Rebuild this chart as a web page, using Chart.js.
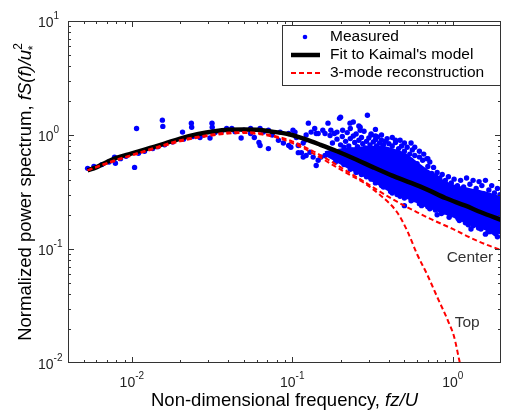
<!DOCTYPE html>
<html>
<head>
<meta charset="utf-8">
<script src="https://cdn.jsdelivr.net/npm/chart.js@4.4.1/dist/chart.umd.min.js"></script>
<style>
  html, body { margin: 0; padding: 0; background: #fff; }
  canvas { display: block; }
</style>
</head>
<body>
<canvas id="spectrum" width="505" height="411"></canvas>
<script>
// ================= DATA =================
// Kaimal fit (black)
const fitX = [0.0053, 0.006, 0.007, 0.008, 0.01, 0.013, 0.016, 0.02, 0.026, 0.033, 0.04, 0.05, 0.06, 0.075, 0.094,
  0.12, 0.15, 0.19, 0.25, 0.32, 0.42, 0.55, 0.7, 0.9, 1.2, 1.5, 2.0];
const fitY = [0.49, 0.52, 0.58, 0.63, 0.69, 0.77, 0.84, 0.93, 1.02, 1.08, 1.11, 1.12, 1.11, 1.07, 1.02,
  0.92, 0.82, 0.72, 0.61, 0.52, 0.44, 0.38, 0.33, 0.28, 0.24, 0.21, 0.18];

// 3-mode reconstruction, center height
const centerX = [0.0053, 0.007, 0.01, 0.015, 0.02, 0.03, 0.04, 0.05, 0.065, 0.08, 0.1, 0.13, 0.17, 0.22, 0.28,
  0.35, 0.45, 0.6, 0.75, 1.0, 1.3, 1.6, 2.0];
const centerY = [0.49, 0.57, 0.67, 0.8, 0.9, 1.0, 1.05, 1.06, 1.03, 0.97, 0.88, 0.74, 0.6, 0.48, 0.39,
  0.32, 0.26, 0.21, 0.18, 0.15, 0.125, 0.11, 0.098];

// 3-mode reconstruction, top height
const topX = [0.0053, 0.007, 0.01, 0.015, 0.02, 0.03, 0.04, 0.05, 0.065, 0.08, 0.1, 0.13, 0.17, 0.22, 0.28,
  0.35, 0.45, 0.52, 0.6, 0.7, 0.8, 0.94, 1.02, 1.1, 1.16];
const topY = [0.49, 0.56, 0.66, 0.78, 0.88, 0.98, 1.03, 1.04, 1.01, 0.95, 0.85, 0.71, 0.57, 0.46, 0.38,
  0.3, 0.21, 0.145, 0.09, 0.058, 0.038, 0.023, 0.017, 0.0105, 0.0075];

// dense core of the measured cloud (upper / lower edge)
const bandX = [0.16, 0.2, 0.25, 0.3, 0.35, 0.4, 0.5, 0.6, 0.7, 0.8, 1.0, 1.3, 1.6, 2.0];
const bandUpper = [0.7, 0.74, 0.76, 0.78, 0.78, 0.76, 0.68, 0.56, 0.48, 0.42, 0.36, 0.33, 0.31, 0.28];
const bandLower = [0.68, 0.57, 0.48, 0.42, 0.37, 0.33, 0.29, 0.26, 0.235, 0.22, 0.195, 0.165, 0.15, 0.138];

// measured points [fz/U, fS/u*^2]
const measured = [
  [0.0053,0.51],[0.0058,0.53],[0.0065,0.55],[0.0072,0.58],[0.0078,0.64],[0.0079,0.565],[0.0085,0.62],[0.0092,0.65],
  [0.0104,0.52],[0.0107,1.14],[0.011,0.69],[0.012,0.72],[0.0135,0.76],[0.0145,0.79],[0.0155,1.35],[0.0156,1.19],
  [0.016,0.82],[0.018,0.87],[0.0207,1.06],[0.021,0.92],[0.0235,1.27],[0.0236,1.17],[0.024,0.97],[0.0266,0.95],
  [0.028,1.0],[0.0307,0.94],[0.0316,1.27],[0.0317,1.17],[0.033,1.05],[0.036,1.06],[0.039,1.14],[0.042,1.14],
  [0.044,1.07],[0.048,0.94],[0.05,1.1],[0.055,1.14],[0.055,1.03],[0.058,0.95],[0.062,0.86],[0.063,1.14],
  [0.063,0.81],[0.066,1.06],[0.071,0.76],[0.071,1.1],[0.075,1.0],[0.082,0.9],[0.084,1.06],[0.088,0.85],
  [0.095,0.81],[0.095,1.03],[0.098,0.78],[0.101,1.1],[0.104,1.06],[0.106,0.95],[0.109,0.81],[0.109,0.7],
  [0.114,0.7],[0.117,0.85],[0.117,0.64],[0.12,0.9],[0.122,1.0],[0.122,0.66],[0.126,1.27],[0.129,0.705],
  [0.131,1.06],[0.135,0.64],[0.138,1.14],[0.141,0.54],[0.141,1.03],[0.145,1.03],[0.145,0.6],[0.151,0.64],
  [0.155,1.1],[0.16,0.66],[0.16,1.03],[0.167,1.27],[0.172,0.99],[0.174,1.1],[0.178,0.85],[0.183,0.705],
  [0.183,1.03],[0.186,0.58],[0.19,1.06],[0.197,1.4],[0.2,1.43],[0.206,1.1],[0.229,1.27],[0.23,1.14],
  [0.265,1.17],[0.265,1.1],[0.294,1.49],
  // above the fit
  [0.19,0.92],[0.2,0.82],[0.205,0.97],[0.21,0.78],[0.215,0.88],[0.22,1.05],[0.225,0.8],[0.23,0.93],
  [0.235,0.74],[0.24,0.98],[0.245,0.86],[0.25,1.02],[0.255,0.79],[0.26,0.9],[0.265,0.73],[0.27,0.95],
  [0.275,0.84],[0.28,1.08],[0.285,0.77],[0.29,0.88],[0.295,0.7],[0.3,0.94],[0.305,0.82],[0.31,1.0],
  [0.315,0.75],[0.32,0.87],[0.325,0.68],[0.33,0.91],[0.335,0.8],[0.34,0.96],[0.345,0.72],[0.35,0.85],
  [0.355,0.66],[0.36,0.9],[0.365,0.78],[0.37,0.82],[0.375,0.64],[0.38,0.88],[0.39,0.73],[0.4,0.84],
  [0.41,0.62],[0.42,0.8],[0.43,0.7],[0.44,0.86],[0.45,0.6],[0.46,0.76],[0.47,0.66],[0.48,0.8],
  [0.49,0.58],[0.5,0.72],[0.51,0.63],[0.52,0.78],[0.53,0.55],[0.54,0.68],[0.55,0.6],[0.56,0.74],
  [0.57,0.52],[0.58,0.66],[0.6,0.56],[0.62,0.64],[0.63,0.5],[0.65,0.6],[0.67,0.48],[0.69,0.62],
  [0.7,0.53],[0.72,0.58],[0.74,0.46],[0.76,0.52],[0.78,0.44],[0.8,0.47],[0.83,0.42],[0.86,0.45],
  [0.9,0.4],[0.94,0.43],[0.98,0.38],[1.02,0.41],[1.07,0.36],[1.12,0.4],[1.17,0.35],[1.22,0.42],
  [1.28,0.37],[1.34,0.4],[1.4,0.34],[1.46,0.39],[1.52,0.36],[1.6,0.4],[1.68,0.33],[1.75,0.36],
  [1.82,0.31],[1.9,0.34],[1.97,0.3],
  [0.36,1.0],[0.42,0.95],[0.33,1.12],[0.26,1.2],[0.24,1.3],[0.47,0.9],[0.55,0.85],
  [0.31,1.02],[0.33,0.98],[0.39,0.93],[0.44,0.9],[0.5,0.85],[0.58,0.78],[0.62,0.72],[0.66,0.68],[0.7,0.62],
  // below the fit
  [0.19,0.6],[0.2,0.66],[0.21,0.55],[0.22,0.62],[0.23,0.5],[0.24,0.58],[0.25,0.47],[0.26,0.55],
  [0.27,0.45],[0.28,0.52],[0.29,0.43],[0.3,0.49],[0.31,0.41],[0.32,0.46],[0.33,0.38],[0.35,0.42],
  [0.37,0.35],[0.39,0.4],[0.41,0.32],[0.43,0.37],[0.45,0.3],[0.48,0.34],[0.5,0.28],[0.53,0.32],
  [0.56,0.27],[0.59,0.3],[0.62,0.25],[0.66,0.28],[0.7,0.235],[0.74,0.26],[0.78,0.22],[0.82,0.245],
  [0.87,0.21],[0.92,0.23],[0.97,0.2],[1.03,0.215],[1.08,0.185],[1.14,0.2],[1.2,0.17],[1.27,0.19],
  [1.34,0.16],[1.42,0.175],[1.5,0.15],[1.58,0.165],[1.66,0.142],[1.75,0.155],[1.85,0.136],[1.95,0.148],
  [0.5,0.24],[0.8,0.2],[1.3,0.15],[1.6,0.135],[1.9,0.128],
  [0.36,0.36],[0.42,0.31],[0.47,0.29],[0.55,0.265],[0.64,0.24],[0.72,0.225],[0.85,0.205],[0.95,0.19],
  [1.1,0.178],[1.25,0.163],[1.45,0.153],[1.7,0.142],[1.8,0.14]
];

// axes
const xRange = [0.004, 2];
const yRange = [0.01, 10];
const xMajor = [0.01, 0.1, 1];
const yMajor = [0.01, 0.1, 1, 10];

// curve labels
const noteText = ["Center", "Top"];
const noteX = [1.28, 1.23];
const noteY = [0.0845, 0.0224];

const legendItems = ["Measured", "Fit to Kaimal's model", "3-mode reconstruction"];

// ================= HELPERS =================
const FONT = '"Liberation Sans", Arial, sans-serif';
const BLUE = "#0000ff";
const RED = "#ff0000";

function xy(xs, ys) {
  return xs.map((x, i) => ({ x: x, y: ys[i] }));
}

function drawPower(ctx, exp, x, y, mode) {
  ctx.font = "14px " + FONT;
  const bw = ctx.measureText("10").width;
  ctx.font = "10px " + FONT;
  const sup = String(exp);
  const sw = ctx.measureText(sup).width;
  const left = mode === "center" ? x - (bw + sw) / 2 : x;
  ctx.textAlign = "left";
  ctx.textBaseline = "middle";
  ctx.font = "14px " + FONT;
  ctx.fillText("10", left, y);
  ctx.font = "10px " + FONT;
  ctx.fillText(sup, left + bw, y - 7);
}

// ================= DECORATION PLUGIN =================
const decor = {
  id: "decor",
  afterDatasetsDraw(chart) {
    const { ctx, chartArea: a, scales } = chart;
    const xs = scales.x, ys = scales.y;
    ctx.save();

    // frame
    ctx.strokeStyle = "#333";
    ctx.lineWidth = 1;
    ctx.strokeRect(a.left + 0.5, a.top + 0.5, a.right - a.left - 1, a.bottom - a.top - 1);

    // inward ticks on all four sides
    ctx.beginPath();
    for (let e = -3; e <= 1; e++) {
      for (let m = 1; m <= 9; m++) {
        const v = m * Math.pow(10, e);
        const len = m === 1 ? 6 : 3;
        if (v > xRange[0] && v < xRange[1]) {
          const px = Math.round(xs.getPixelForValue(v)) + 0.5;
          ctx.moveTo(px, a.bottom); ctx.lineTo(px, a.bottom - len);
          ctx.moveTo(px, a.top); ctx.lineTo(px, a.top + len);
        }
        if (v > yRange[0] && v < yRange[1]) {
          const py = Math.round(ys.getPixelForValue(v)) + 0.5;
          ctx.moveTo(a.left, py); ctx.lineTo(a.left + len, py);
          ctx.moveTo(a.right, py); ctx.lineTo(a.right - len, py);
        }
      }
    }
    ctx.stroke();

    // tick labels
    ctx.fillStyle = "#222";
    xMajor.forEach(v => {
      drawPower(ctx, Math.round(Math.log10(v)), xs.getPixelForValue(v), 383, "center");
    });
    yMajor.forEach(v => {
      drawPower(ctx, Math.round(Math.log10(v)), 38, ys.getPixelForValue(v) + 2, "left");
    });

    // axis titles
    ctx.fillStyle = "#000";
    ctx.textBaseline = "alphabetic";
    const xa = "Non-dimensional frequency, ";
    ctx.font = "italic 18.5px " + FONT;
    const xbW = ctx.measureText("fz/U").width;
    ctx.font = "18.5px " + FONT;
    const xaW = ctx.measureText(xa).width;
    let sx = (a.left + a.right) / 2 - (xaW + xbW) / 2;
    ctx.textAlign = "left";
    ctx.fillText(xa, sx, 406);
    ctx.font = "italic 18.5px " + FONT;
    ctx.fillText("fz/U", sx + xaW, 406);

    ctx.save();
    ctx.translate(31, (a.top + a.bottom) / 2);
    ctx.rotate(-Math.PI / 2);
    const ya = "Normalized power spectrum, ";
    ctx.font = "18.5px " + FONT;
    const yaW = ctx.measureText(ya).width;
    ctx.font = "italic 18.5px " + FONT;
    const ybW = ctx.measureText("fS(f)/u").width;
    ctx.font = "italic 12px " + FONT;
    const ycW = ctx.measureText("2").width;
    let sy = -(yaW + ybW + ycW) / 2;
    ctx.font = "18.5px " + FONT;
    ctx.fillText(ya, sy, 0);
    ctx.font = "italic 18.5px " + FONT;
    ctx.fillText("fS(f)/u", sy + yaW, 0);
    ctx.font = "12px " + FONT;
    ctx.fillText("2", sy + yaW + ybW, -9);
    ctx.font = "italic 12px " + FONT;
    ctx.fillText("*", sy + yaW + ybW - 1, 6);
    ctx.restore();

    // curve labels
    ctx.fillStyle = "#333";
    ctx.font = "15.5px " + FONT;
    ctx.textAlign = "center";
    ctx.textBaseline = "middle";
    noteText.forEach((t, i) => {
      ctx.fillText(t, xs.getPixelForValue(noteX[i]), ys.getPixelForValue(noteY[i]));
    });

    // legend
    const lx = 282, ly = 25, lw = 218, lh = 60;
    ctx.fillStyle = "#fff";
    ctx.fillRect(lx, ly, lw, lh);
    ctx.strokeStyle = "#333";
    ctx.lineWidth = 1;
    ctx.strokeRect(lx + 0.5, ly + 0.5, lw, lh);
    const rows = [37, 55, 73];
    ctx.fillStyle = BLUE;
    ctx.beginPath();
    ctx.arc(305, rows[0], 2.3, 0, Math.PI * 2);
    ctx.fill();
    ctx.strokeStyle = "#000";
    ctx.lineWidth = 4.5;
    ctx.beginPath(); ctx.moveTo(291, rows[1]); ctx.lineTo(320, rows[1]); ctx.stroke();
    ctx.strokeStyle = RED;
    ctx.lineWidth = 2;
    ctx.setLineDash([5, 3]);
    ctx.beginPath(); ctx.moveTo(291, rows[2]); ctx.lineTo(320, rows[2]); ctx.stroke();
    ctx.setLineDash([]);
    ctx.fillStyle = "#000";
    ctx.font = "15.5px " + FONT;
    ctx.textAlign = "left";
    legendItems.forEach((t, i) => ctx.fillText(t, 330, rows[i]));

    ctx.restore();
  }
};

// ================= CHART =================
const ctx = document.getElementById("spectrum").getContext("2d");

new Chart(ctx, {
  type: "line",
  data: {
    datasets: [
      {
        label: "Measured",
        data: measured.map(p => ({ x: p[0], y: p[1] })),
        showLine: false,
        pointRadius: 2.7,
        pointBorderWidth: 0,
        pointBackgroundColor: BLUE,
        order: 3
      },
      {
        label: "Fit to Kaimal's model",
        data: xy(fitX, fitY),
        borderColor: "#000",
        borderWidth: 4.5,
        pointRadius: 0,
        cubicInterpolationMode: "monotone",
        order: 2
      },
      {
        label: "Center",
        data: xy(centerX, centerY),
        borderColor: RED,
        borderWidth: 2,
        borderDash: [5, 3],
        pointRadius: 0,
        cubicInterpolationMode: "monotone",
        order: 1
      },
      {
        label: "Top",
        data: xy(topX, topY),
        borderColor: RED,
        borderWidth: 2,
        borderDash: [5, 3],
        pointRadius: 0,
        cubicInterpolationMode: "monotone",
        order: 1
      },
      {
        label: "band upper",
        data: xy(bandX, bandUpper),
        borderColor: BLUE,
        borderWidth: 3,
        backgroundColor: BLUE,
        pointRadius: 0,
        tension: 0.3,
        fill: "+1",
        order: 4
      },
      {
        label: "band lower",
        data: xy(bandX, bandLower),
        borderColor: BLUE,
        borderWidth: 3,
        pointRadius: 0,
        tension: 0.3,
        fill: false,
        order: 4
      }
    ]
  },
  options: {
    responsive: false,
    animation: false,
    layout: { padding: { left: 0, top: 21, right: 1, bottom: 0 } },
    scales: {
      x: {
        type: "logarithmic",
        min: xRange[0],
        max: xRange[1],
        ticks: { display: false },
        grid: { display: false },
        border: { display: false },
        afterFit(s) { s.height = 48; }
      },
      y: {
        type: "logarithmic",
        min: yRange[0],
        max: yRange[1],
        ticks: { display: false },
        grid: { display: false },
        border: { display: false },
        afterFit(s) { s.width = 68; }
      }
    },
    plugins: {
      legend: { display: false },
      tooltip: { enabled: false }
    }
  },
  plugins: [decor]
});
</script>
</body>
</html>
